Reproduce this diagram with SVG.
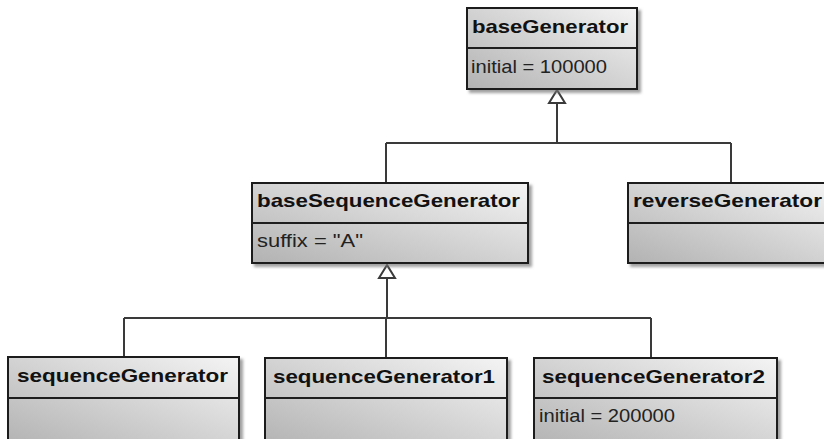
<svg xmlns="http://www.w3.org/2000/svg" width="824" height="439" viewBox="0 0 824 439">
<defs>
<linearGradient id="g" x1="0" y1="1" x2="1" y2="0">
<stop offset="0" stop-color="#b2b2b2"/>
<stop offset="1" stop-color="#f4f4f4"/>
</linearGradient>
<filter id="sh" x="-10%" y="-10%" width="130%" height="140%">
<feDropShadow dx="3" dy="3" stdDeviation="1.5" flood-color="#777" flood-opacity="0.7"/>
</filter>
</defs>
<style>
.box{fill:url(#g);stroke:#1e1e1e;stroke-width:2;filter:url(#sh)}
.div{stroke:#1e1e1e;stroke-width:2}
.t{font-family:"Liberation Sans",Arial,sans-serif;font-weight:bold;font-size:19px;fill:#111}
.a{font-family:"Liberation Sans",Arial,sans-serif;font-size:19px;fill:#222}
.c{fill:none;stroke:#3a3a3a;stroke-width:2}
.h{fill:#fff;stroke:#3a3a3a;stroke-width:2}
</style>
<g id="connectors">
<path class="c" d="M557 103 V143 M386 143 H731 M386 143 V183 M731 143 V183"/>
<polygon class="h" points="557,90 549,103 565,103"/>
<path class="c" d="M387 278 V318 M124 318 H651 M124 318 V357 M386 318 V357 M651 318 V357"/>
<polygon class="h" points="387,265 379,278 395,278"/>
</g>
<g id="baseGenerator">
<rect class="box" x="467" y="8" width="170" height="81"/>
<line class="div" x1="467" y1="48" x2="637" y2="48"/>
<text class="t" x="472" y="33" textLength="156" lengthAdjust="spacingAndGlyphs">baseGenerator</text>
<text class="a" x="471" y="73" textLength="136" lengthAdjust="spacingAndGlyphs">initial = 100000</text>
</g>
<g id="baseSequenceGenerator">
<rect class="box" x="252" y="183" width="276" height="80"/>
<line class="div" x1="252" y1="223" x2="528" y2="223"/>
<text class="t" x="257" y="207" textLength="263" lengthAdjust="spacingAndGlyphs">baseSequenceGenerator</text>
<text class="a" x="257" y="247" textLength="106" lengthAdjust="spacingAndGlyphs">suffix = "A"</text>
</g>
<g id="reverseGenerator">
<rect class="box" x="628" y="183" width="210" height="80"/>
<line class="div" x1="628" y1="223" x2="838" y2="223"/>
<text class="t" x="633" y="207" textLength="189" lengthAdjust="spacingAndGlyphs">reverseGenerator</text>
</g>
<g id="sequenceGenerator">
<rect class="box" x="8" y="357" width="231" height="90"/>
<line class="div" x1="8" y1="398" x2="239" y2="398"/>
<text class="t" x="17" y="382" textLength="211" lengthAdjust="spacingAndGlyphs">sequenceGenerator</text>
</g>
<g id="sequenceGenerator1">
<rect class="box" x="265" y="358" width="242" height="90"/>
<line class="div" x1="265" y1="398" x2="507" y2="398"/>
<text class="t" x="273" y="383" textLength="222" lengthAdjust="spacingAndGlyphs">sequenceGenerator1</text>
</g>
<g id="sequenceGenerator2">
<rect class="box" x="534" y="358" width="243" height="90"/>
<line class="div" x1="534" y1="398" x2="777" y2="398"/>
<text class="t" x="542" y="383" textLength="223" lengthAdjust="spacingAndGlyphs">sequenceGenerator2</text>
<text class="a" x="539" y="422" textLength="136" lengthAdjust="spacingAndGlyphs">initial = 200000</text>
</g>
</svg>
